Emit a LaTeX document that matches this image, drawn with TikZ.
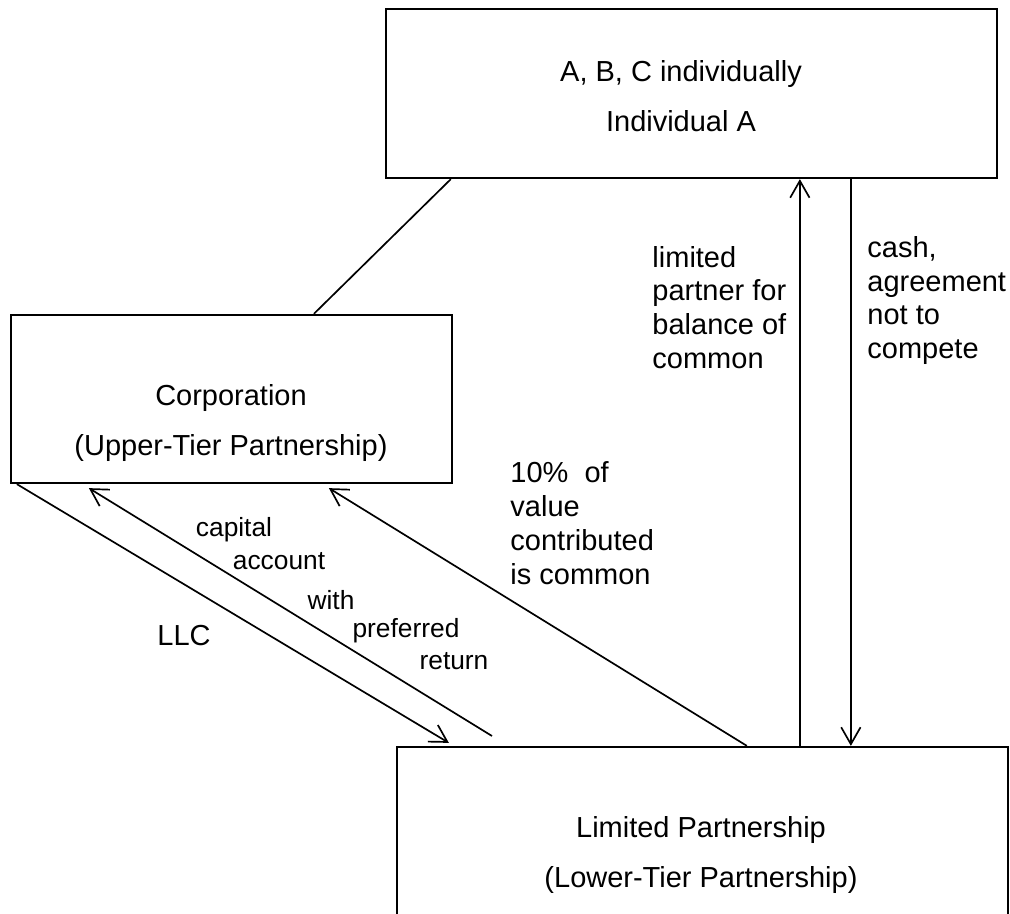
\documentclass[tikz,border=0pt]{standalone}
\usepackage{fontspec}
\setmainfont{Liberation Sans}
\usepackage{tikz}
\usetikzlibrary{arrows.meta}
\usetikzlibrary{calc}
\tikzstyle{arrow} = [line width=0.7pt,-{Straight Barb[length=7pt,width=8pt]}]
\tikzstyle{box} = [draw, line width=0.9pt, inner sep=0pt]
\tikzstyle{boxtext} = [align=center, font=\fontsize{12}{20.7}\selectfont]
\tikzstyle{note} = [align=left, anchor=west, inner sep=0pt, font=\fontsize{12}{14}\selectfont]
\tikzstyle{small} = [font=\fontsize{10.9}{13}\selectfont]

\begin{document}
\begin{tikzpicture}[x=0.414pt,y=-0.414pt]
    \useasboundingbox (0,0) rectangle (1010,914);
    \clip (0,0) rectangle (1010,914);

    % boxes
    \node[box, minimum width=253pt, minimum height=70pt] (top) at (691.5,93.5) {};
    \node[box, minimum width=182.6pt, minimum height=69.6pt] (corp) at (231.5,399) {};
    \node[box, minimum width=253pt, minimum height=96.5pt] (lp) at (702.5,863.5) {};

    \node[boxtext] (toptxt) at (681,96.5) {A, B, C individually\\Individual A};
    \node[boxtext] (corptxt) at (231,423.5) {Corporation\\(Upper-Tier Partnership)};
    \node[boxtext] (lptxt) at (701,855) {Limited Partnership\\(Lower-Tier Partnership)};

    % connectors
    \draw[line width=0.7pt] ($(top.south west)+(66,0)$) to ($(corp.north west)+(304,0)$);
    \draw[arrow] ($(lp.north west)+(404,0)$) to ($(top.south west)+(415,0)$);
    \draw[arrow] ($(top.south west)+(466,0)$) to ($(lp.north west)+(455,0)$);
    \draw[arrow] ($(corp.south west)+(7,0)$) to ($(lp.north west)+(53,-3)$);
    \coordinate (capend) at (492,736);
    \draw[arrow] (capend) to ($(corp.south west)+(79,4)$);
    \draw[arrow] ($(lp.north west)+(351,0)$) to ($(corp.south west)+(319,4)$);

    % labels
    \node[note] (lpnote) at (652,307.5) {limited\\partner for\\balance of\\common};
    \node[note] (cashnote) at (867,300.5) {cash,\\agreement\\not to\\compete};
    \node[note] (valnote) at (510,523) {10\%~ of\\value\\contributed\\is common};
    \node[font=\fontsize{12}{14}\selectfont] (llc) at (184,636) {LLC};

    \node[small] (cap1) at (234,530) {capital};
    \node[small] (cap2) at (279,561) {account};
    \node[small] (cap3) at (331,600) {with};
    \node[small] (cap4) at (406,631) {preferred};
    \node[small] (cap5) at (454,661) {return};

\end{tikzpicture}
\end{document}
